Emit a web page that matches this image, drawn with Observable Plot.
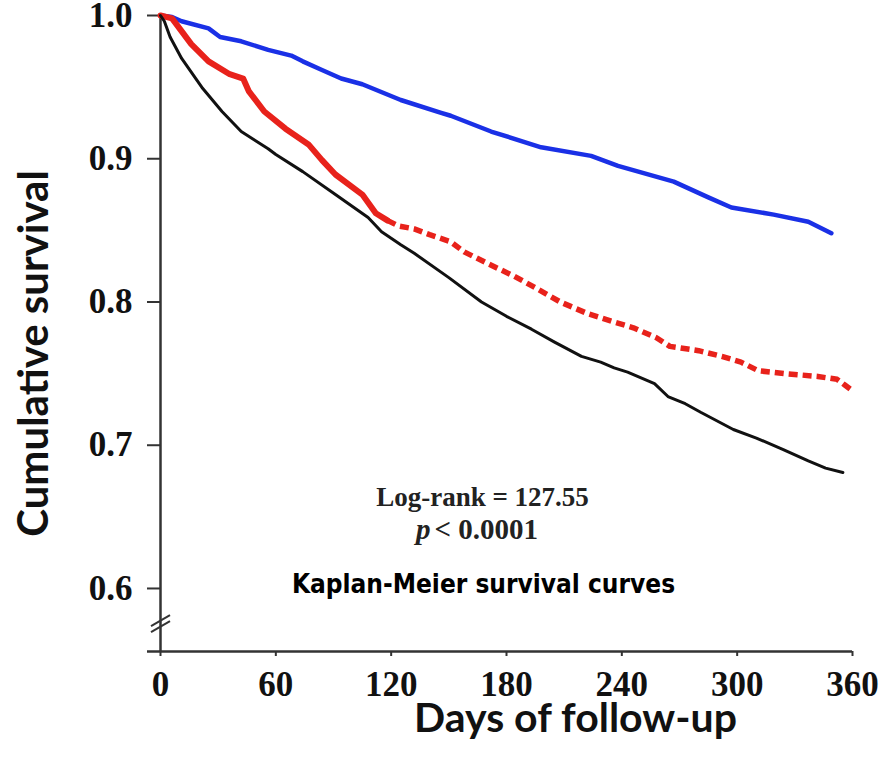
<!DOCTYPE html>
<html>
<head>
<meta charset="utf-8">
<script src="https://cdn.jsdelivr.net/npm/d3@7"></script>
<script src="https://cdn.jsdelivr.net/npm/@observablehq/plot@0.6"></script>
<style>
  html, body { margin: 0; padding: 0; background: white; }
</style>
</head>
<body>
<div id="chart"></div>
<script>
// Kaplan-Meier curves (days, cumulative survival)
const blueDays = [0, 6, 11, 25, 31, 42, 56, 68, 74, 84, 94, 105, 125, 146, 151, 172, 198, 224, 238, 267, 285, 297, 319, 337, 349];
const blueSurv = [1.0, 0.999, 0.996, 0.991, 0.985, 0.982, 0.976, 0.972, 0.968, 0.962, 0.956, 0.952, 0.941, 0.932, 0.930, 0.919, 0.908, 0.902, 0.895, 0.884, 0.873, 0.866, 0.861, 0.856, 0.848];

const redDays = [0, 6, 16, 25, 36, 43, 46, 54, 65, 77, 84, 91, 105, 112, 118, 124, 132, 140, 151, 158, 170, 184, 195, 208, 222, 236, 246, 258, 265, 280, 292, 302, 311, 325, 342, 352, 356, 360];
const redSurv = [1.0, 0.998, 0.980, 0.968, 0.959, 0.956, 0.947, 0.933, 0.921, 0.910, 0.899, 0.889, 0.875, 0.862, 0.857, 0.853, 0.851, 0.847, 0.842, 0.835, 0.827, 0.818, 0.810, 0.800, 0.792, 0.786, 0.782, 0.775, 0.769, 0.766, 0.762, 0.758, 0.752, 0.750, 0.748, 0.746, 0.742, 0.738];

const blackDays = [0, 2, 5, 11, 22, 32, 42, 56, 60, 74, 91, 108, 115, 125, 132, 150, 167, 180, 193, 205, 219, 229, 236, 243, 257, 264, 273, 281, 298, 310, 324, 337, 346, 355];
const blackSurv = [1.0, 0.996, 0.985, 0.970, 0.949, 0.933, 0.919, 0.907, 0.903, 0.891, 0.875, 0.859, 0.849, 0.840, 0.834, 0.817, 0.800, 0.790, 0.781, 0.772, 0.762, 0.758, 0.754, 0.751, 0.743, 0.734, 0.729, 0.723, 0.711, 0.705, 0.697, 0.689, 0.684, 0.681];

const xTicks = [0, 60, 120, 180, 240, 300, 360];
const yTicks = [0.6, 0.7, 0.8, 0.9, 1.0];
const yBottom = 0.556;   // axis origin below the break
const yBreak = 0.574;    // where the "//" sits on the y axis
const redDashFrom = 118; // red curve turns dashed from here

const xLabel = "Days of follow-up";
const yLabel = "Cumulative survival";
const title = "Kaplan-Meier survival curves";
const logRank = "Log-rank = 127.55";
const pValue = "< 0.0001";

const rows = (days, surv, group) => days.map((d, i) => ({day: d, surv: surv[i], group}));
const blue = rows(blueDays, blueSurv, "blue");
const red = rows(redDays, redSurv, "red");
const black = rows(blackDays, blackSurv, "black");

// "//" break marks on the y axis, placed with the plot's own scales
function axisBreak(index, {x, y}) {
  const px = x(0), py = y(yBreak);
  const g = d3.create("svg:g").attr("stroke", "#333").attr("stroke-width", 2);
  for (const off of [0, -6]) {
    g.append("line")
      .attr("x1", px - 9).attr("y1", py + 7 + off)
      .attr("x2", px + 10).attr("y2", py - 4 + off);
  }
  return g.node();
}

const serif = "'Liberation Serif', 'Times New Roman', serif";
const sans = "Lato, 'Open Sans', sans-serif";

const chart = Plot.plot({
  width: 888,
  height: 767,
  marginTop: 15,
  marginLeft: 160,
  marginRight: 36,
  marginBottom: 116,
  style: {fontFamily: serif, fontSize: "35px", fontWeight: "bold", background: "white", color: "#111"},
  x: {domain: [0, 360]},
  y: {domain: [yBottom, 1.0]},
  marks: [
    Plot.axisX({ticks: xTicks, tickSize: 5, tickPadding: 15, label: null, stroke: "#333", strokeWidth: 2}),
    Plot.axisY({ticks: yTicks, tickSize: 13, tickPadding: 15, label: null, tickFormat: d3.format(".1f"), stroke: "#333", strokeWidth: 2}),
    Plot.ruleY([yBottom], {stroke: "#333", strokeWidth: 2.5, insetLeft: -13}),
    Plot.ruleX([0], {y1: yBottom, y2: 1.0, stroke: "#333", strokeWidth: 2.5}),
    axisBreak,
    Plot.line(blue, {x: "day", y: "surv", stroke: "#1a30e6", strokeWidth: 4.5}),
    Plot.line(red.filter(d => d.day <= redDashFrom), {x: "day", y: "surv", stroke: "#e8221b", strokeWidth: 6}),
    Plot.line(red.filter(d => d.day >= redDashFrom), {x: "day", y: "surv", stroke: "#e8221b", strokeWidth: 5.5,
      strokeDasharray: "9,5", strokeLinecap: "butt"}),
    Plot.line(black, {x: "day", y: "surv", stroke: "#111", strokeWidth: 3}),
    Plot.text([yLabel], {frameAnchor: "left", textAnchor: "middle", rotate: -90, dx: -126, dy: 20,
      fontFamily: sans, fontSize: 42, fontWeight: "bold"}),
    Plot.text([xLabel], {frameAnchor: "bottom", textAnchor: "middle", dx: 69, dy: 80,
      fontFamily: sans, fontSize: 41, fontWeight: "bold"}),
    Plot.text([logRank], {frameAnchor: "middle", textAnchor: "middle", dx: -24, dy: 164,
      fontFamily: serif, fontSize: 27, fontWeight: "bold", fill: "#222"}),
    Plot.text(["p"], {frameAnchor: "middle", textAnchor: "end", dx: -76, dy: 196,
      fontFamily: serif, fontSize: 29, fontWeight: "bold", fontStyle: "italic", fill: "#222"}),
    Plot.text([pValue], {frameAnchor: "middle", textAnchor: "start", dx: -72, dy: 196,
      fontFamily: serif, fontSize: 29, fontWeight: "bold", fill: "#222"}),
    Plot.text([title], {frameAnchor: "middle", textAnchor: "middle", dx: -23, dy: 251,
      fontFamily: "'DejaVu Sans Condensed', 'DejaVu Sans', sans-serif", fontSize: 26, fontWeight: "bold", fill: "#000"})
  ]
});

document.getElementById("chart").append(chart);
</script>
</body>
</html>
